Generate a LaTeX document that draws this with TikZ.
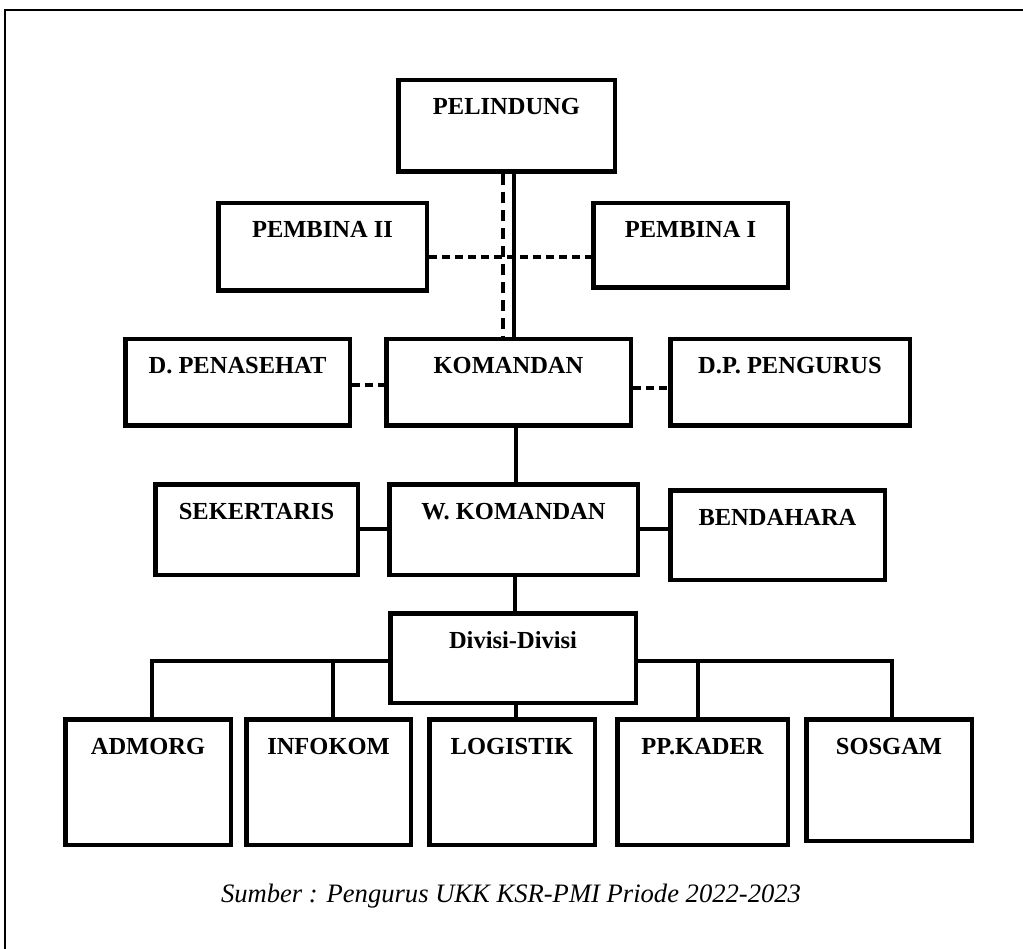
\documentclass[tikz,border=0pt]{standalone}
\usepackage{fontspec}
\setmainfont{Liberation Serif}
\begin{document}
\begin{tikzpicture}[x=1pt,y=-1pt,
  box/.style n args={2}{draw, line width=4.5pt, inner sep=0pt, anchor=north west,
    minimum width=#1pt, minimum height=0pt, text height=34.75pt, text depth=#2pt,
    font=\bfseries\fontsize{24.5}{29}\selectfont},
  conn/.style={line width=3.5pt},
  dconn/.style={line width=3.5pt, dash pattern=on 8pt off 5pt},
  vdconn/.style={line width=3.5pt, dash pattern=on 11pt off 7pt},
  frame/.style={line width=2pt}]
\useasboundingbox (0,0) rectangle (1023,949);
% outer frame
\coordinate (fb) at (5,952);
\coordinate (ft) at (5,10);
\coordinate (fr) at (1026,10);
\draw[frame] (fb) -- (ft) -- (fr);
% boxes
\node[box={216.5}{56.75}] (pel) at (396,78) {PELINDUNG};
\node[box={208.5}{52.75}] (pb2) at (216,201) {PEMBINA II};
\node[box={194.5}{49.75}] (pb1) at (591,201) {PEMBINA I};
\node[box={224.5}{51.75}] (pen) at (123,337) {D. PENASEHAT};
\node[box={244.5}{51.75}] (kom) at (384,337) {KOMANDAN};
\node[box={239.5}{51.75}] (dpp) at (668,337) {D.P. PENGURUS};
\node[box={202.5}{55.75}] (sek) at (153,482) {SEKERTARIS};
\node[box={248.5}{55.75}] (wk) at (387,482) {W. KOMANDAN};
\node[box={214.5}{54.75}] (ben) at (668,488) {BENDAHARA};
\node[box={245.5}{54.75}] (div) at (388,611) {Divisi-Divisi};
\node[box={165.5}{90.75}] (adm) at (63,717) {ADMORG};
\node[box={164.5}{90.75}] (inf) at (244,717) {INFOKOM};
\node[box={165.5}{90.75}] (log) at (427,717) {LOGISTIK};
\node[box={170.5}{90.75}] (ppk) at (615,717) {PP.KADER};
\node[box={165.5}{86.75}] (sos) at (804,717) {SOSGAM};
% connectors
\draw[conn] (pel.south -| 514,0) -- (kom.north -| 514,0);
\draw[vdconn] (pel.south -| 503,0) -- (kom.north -| 503,0);
\draw[dconn] (pb2.east |- 0,257) -- (pb1.west |- 0,257);
\draw[dconn] (pen.east |- 0,385) -- (kom.west |- 0,385);
\draw[dconn] (kom.east |- 0,388) -- (dpp.west |- 0,388);
\draw[conn] (kom.south -| 516,0) -- (wk.north -| 516,0);
\draw[conn] (sek.east |- 0,529) -- (wk.west |- 0,529);
\draw[conn] (wk.east |- 0,529) -- (ben.west |- 0,529);
\draw[conn] (wk.south -| 515,0) -- (div.north -| 515,0);
\draw[conn] (div.west |- 0,661) -- (152,661) -- (adm.north -| 152,0);
\draw[conn] (333,661) -- (inf.north -| 333,0);
\draw[conn] (div.east |- 0,661) -- (892,661) -- (sos.north -| 892,0);
\draw[conn] (698,661) -- (ppk.north -| 698,0);
\draw[conn] (div.south -| 516,0) -- (log.north -| 516,0);
% caption
\node[anchor=base, inner sep=0pt, font=\itshape\fontsize{26.6}{32}\selectfont] (cap) at (511,902) {Sumber : Pengurus UKK KSR-PMI Priode 2022-2023};
\end{tikzpicture}
\end{document}
